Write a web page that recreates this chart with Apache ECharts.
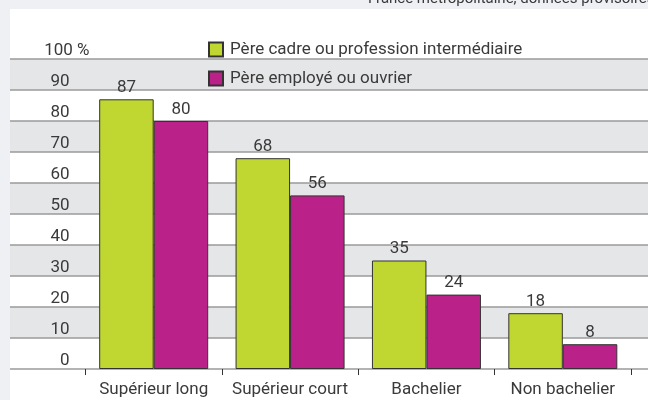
<!DOCTYPE html>
<html>
<head>
<meta charset="utf-8">
<script src="https://cdn.jsdelivr.net/npm/echarts@6/dist/echarts.min.js"></script>
<style>
  html, body { margin: 0; padding: 0; background: #eef0f3; }
  #chart { width: 648px; height: 400px; }
</style>
</head>
<body>
<div id="chart"></div>
<script>
var categories = ["Supérieur long", "Supérieur court", "Bachelier", "Non bachelier"];
var seriesNames = ["Père cadre ou profession intermédiaire", "Père employé ou ouvrier"];
var cadreValues = [87, 68, 35, 18];
var employeValues = [80, 56, 24, 8];
var noteText = "France métropolitaine, données provisoires";

var FONT = "Roboto, 'Liberation Sans Narrow', sans-serif";
var TXT = "#3a3a3a";
var chart = echarts.init(document.getElementById("chart"));

var option = {
  backgroundColor: "#eef0f3",
  animation: false,
  textStyle: { fontFamily: FONT, color: TXT },
  title: {
    text: noteText,
    left: 368,
    top: -8,
    padding: 0,
    textStyle: { fontFamily: FONT, fontSize: 15, fontWeight: "normal", color: TXT }
  },
  graphic: [
    {
      type: "rect",
      z: -10,
      shape: { x: 10, y: 9, width: 638, height: 391 },
      style: { fill: "#ffffff" },
      silent: true
    }
  ],
  legend: {
    orient: "vertical",
    left: 208,
    top: 41,
    padding: 0,
    itemWidth: 14,
    itemHeight: 14,
    itemGap: 12,
    selectedMode: false,
    icon: "rect",
    textStyle: { fontFamily: FONT, fontSize: 17, color: TXT, padding: [0, 0, 0, 2] },
    data: seriesNames
  },
  grid: [
    // grille pleine largeur : bandes + lignes
    { left: 10, right: 0, top: 59, bottom: 31 },
    // barres
    { left: 85.5, right: 17, top: 59, bottom: 31 }
  ],
  xAxis: [
    { type: "value", gridIndex: 0, show: false, min: 0, max: 1 },
    {
      type: "category",
      gridIndex: 1,
      data: categories,
      axisLine: { show: false },
      axisTick: { show: true, interval: 0, length: 6, lineStyle: { color: "#333", width: 1 } },
      axisLabel: { interval: 0, fontFamily: FONT, fontSize: 17, color: TXT, margin: 12 }
    }
  ],
  yAxis: [
    {
      type: "value",
      gridIndex: 0,
      min: 0,
      max: 100,
      interval: 10,
      axisLine: { show: false },
      axisTick: { show: false },
      axisLabel: { show: false },
      splitLine: { show: true, lineStyle: { color: "#9a9a9a", width: 1.5 } },
      splitArea: { show: true, areaStyle: { color: ["rgba(255,255,255,0)", "#e5e6e8"] } }
    },
    {
      type: "value",
      gridIndex: 1,
      min: 0,
      max: 100,
      interval: 10,
      axisLine: { show: false },
      axisTick: { show: false },
      splitLine: { show: false },
      axisLabel: {
        margin: 16,
        fontFamily: FONT,
        fontSize: 17,
        color: TXT,
        verticalAlign: "bottom",
        formatter: function (v) {
          return v === 100 ? "{h|100 %}" : String(v);
        },
        rich: {
          h: { fontFamily: FONT, fontSize: 17, color: TXT, padding: [0, -20, 0, 0] }
        }
      }
    }
  ],
  series: [
    {
      name: seriesNames[0],
      type: "bar",
      xAxisIndex: 1,
      yAxisIndex: 1,
      barWidth: 54.5,
      barGap: "0%",
      itemStyle: { color: "#bfd730", borderColor: "#333", borderWidth: 1 },
      label: { show: true, position: "top", distance: 3, fontFamily: FONT, fontSize: 17, color: TXT },
      data: cadreValues
    },
    {
      name: seriesNames[1],
      type: "bar",
      xAxisIndex: 1,
      yAxisIndex: 1,
      barWidth: 54.5,
      itemStyle: { color: "#bb2289", borderColor: "#333", borderWidth: 1 },
      label: { show: true, position: "top", distance: 3, fontFamily: FONT, fontSize: 17, color: TXT },
      data: employeValues
    }
  ]
};

chart.setOption(option);
</script>
</body>
</html>
